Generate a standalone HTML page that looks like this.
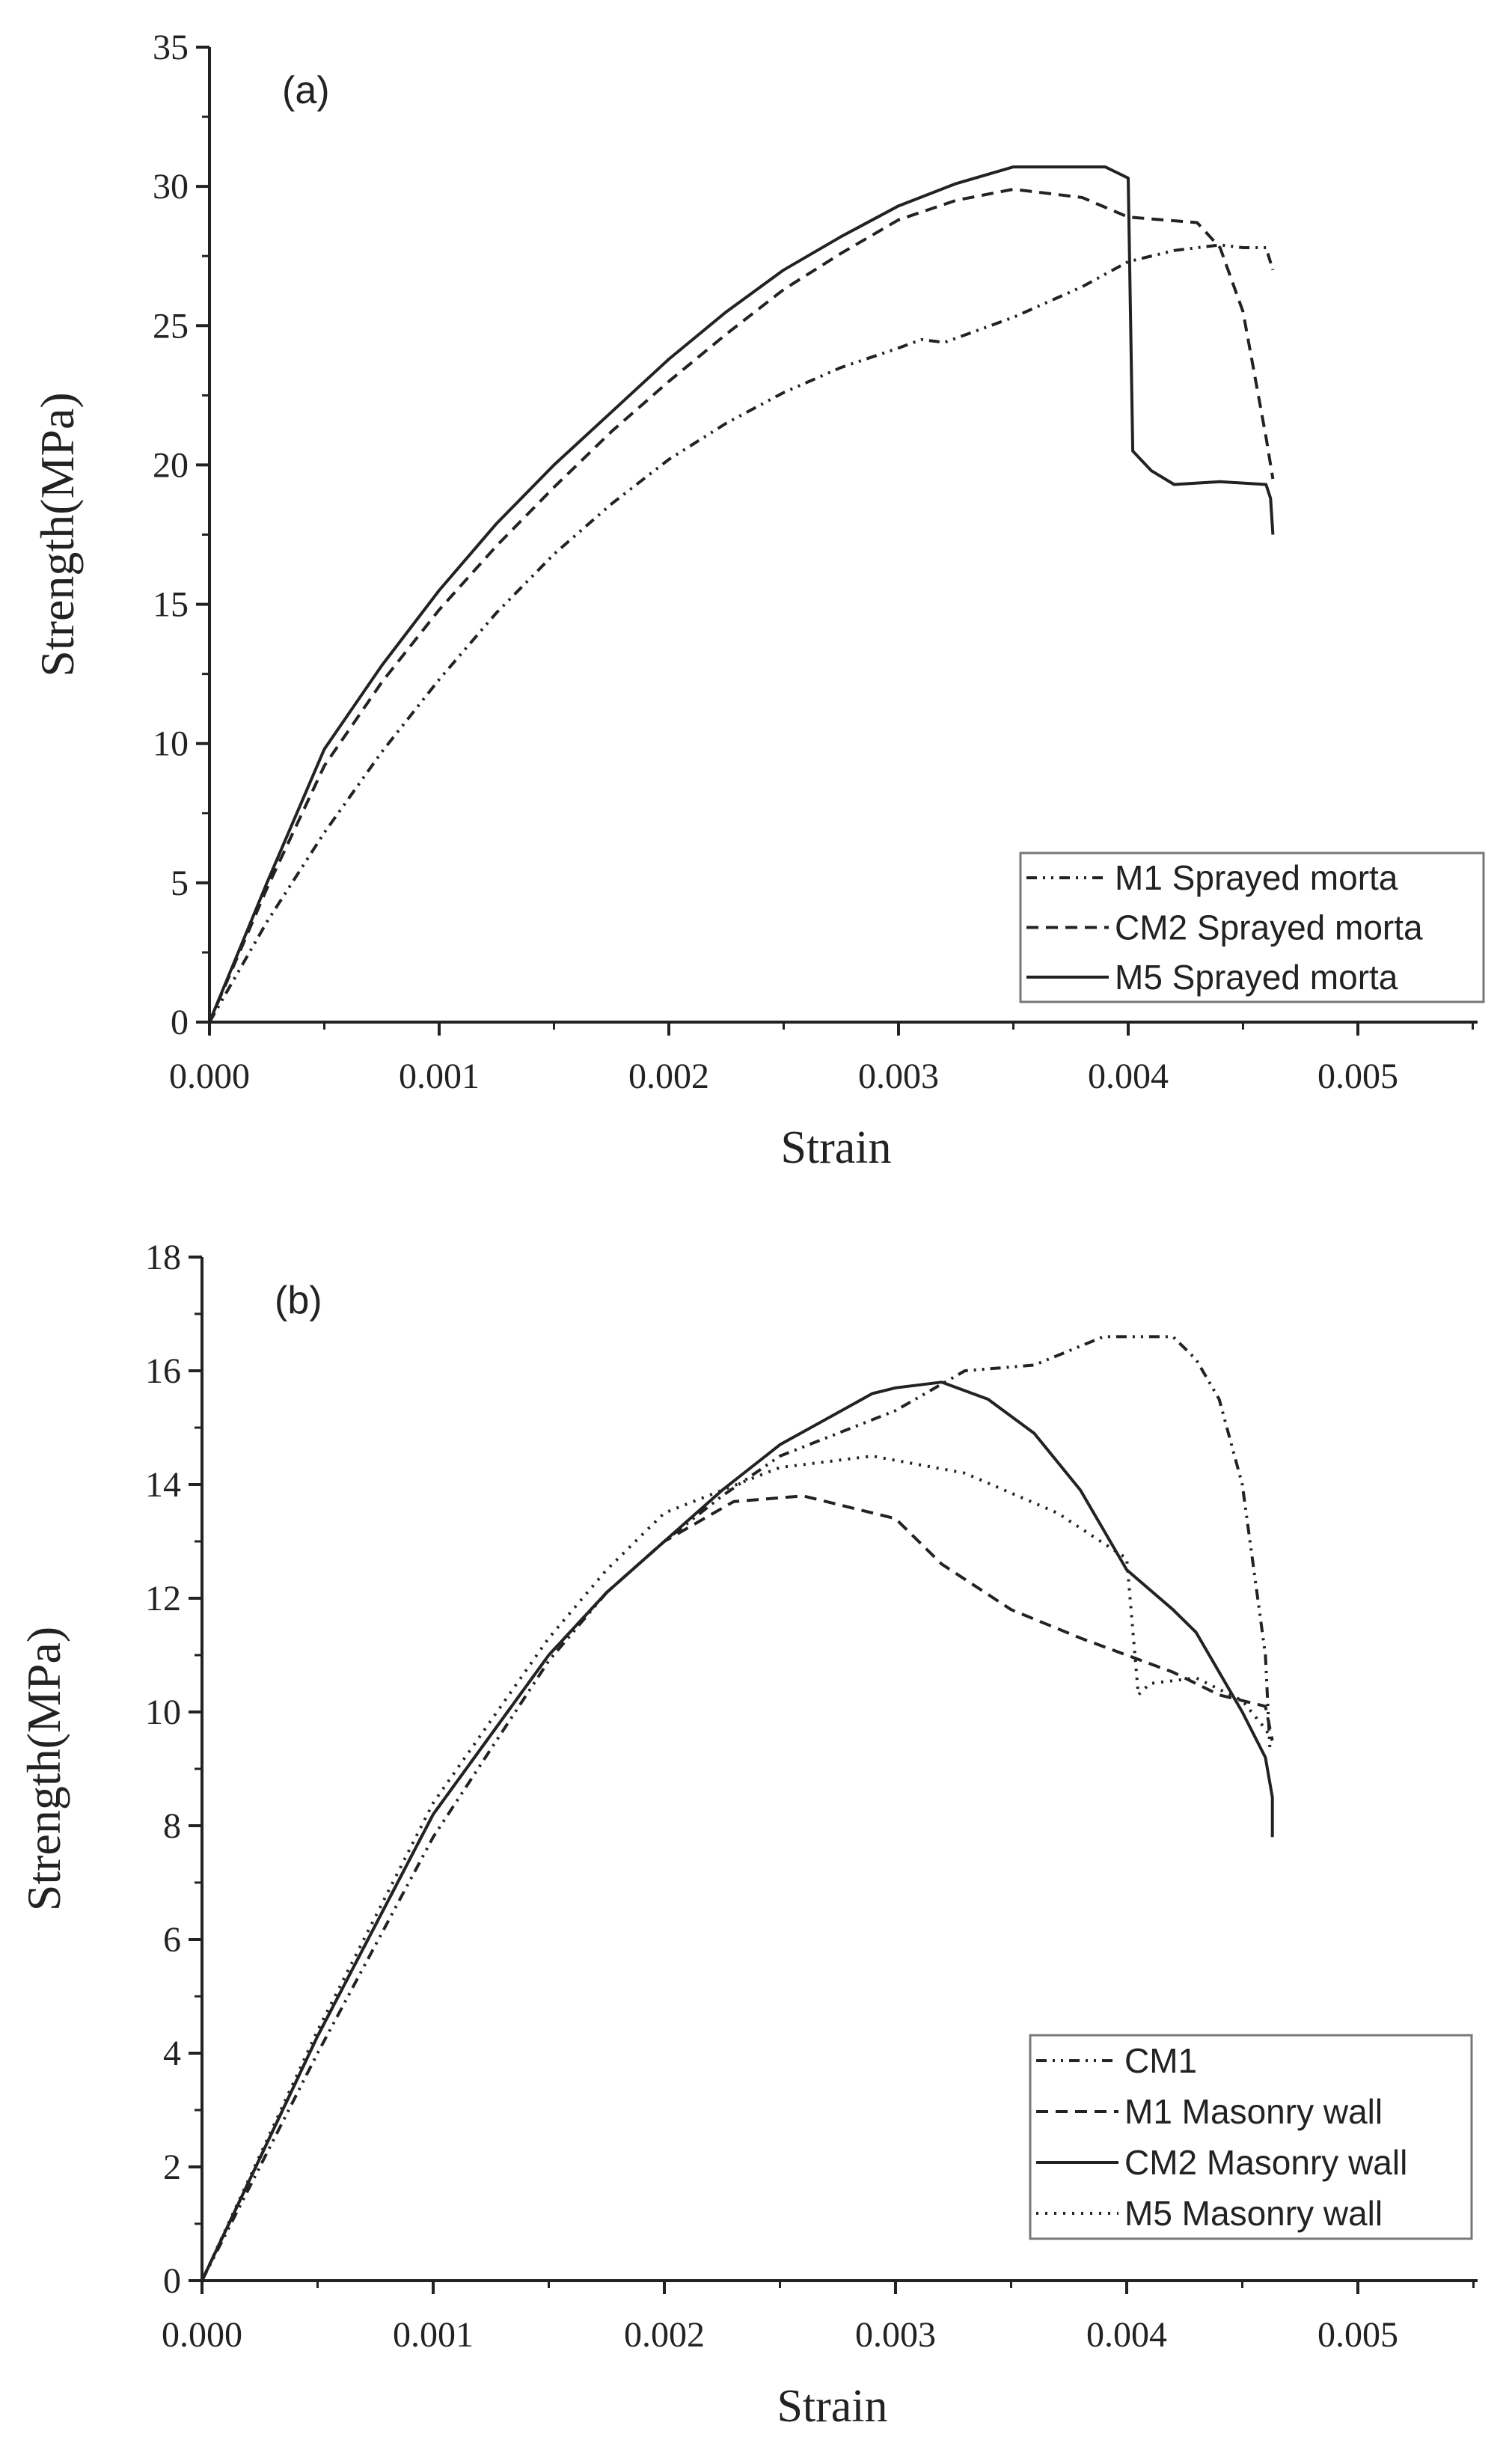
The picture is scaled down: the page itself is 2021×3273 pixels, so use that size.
<!DOCTYPE html>
<html><head><meta charset="utf-8"><style>
html,body{margin:0;padding:0;background:#fff;}
svg{display:block;}
</style></head><body>
<svg id="fig" width="2021" height="3273" viewBox="0 0 2021 3273" xmlns="http://www.w3.org/2000/svg"></svg>
<script>
// Panel (a) data
const aX_M1 = [0,0.00025,0.0005,0.00075,0.001,0.00125,0.0015,0.00175,0.002,0.00225,0.0025,0.00275,0.003,0.0031,0.0032,0.0035,0.0038,0.004,0.0042,0.0044,0.0045,0.0046,0.00463];
const aY_M1 = [0,3.6,6.8,9.7,12.3,14.7,16.8,18.6,20.2,21.5,22.6,23.5,24.2,24.5,24.4,25.3,26.4,27.3,27.7,27.9,27.8,27.8,27];
const aX_CM2 = [0,0.00025,0.0005,0.00075,0.001,0.00125,0.0015,0.00175,0.002,0.00225,0.0025,0.00275,0.003,0.00325,0.0035,0.0038,0.004,0.0043,0.0044,0.0045,0.0046,0.00463];
const aY_CM2 = [0,4.8,9.2,12.2,14.8,17.1,19.2,21.2,23,24.7,26.3,27.6,28.8,29.5,29.9,29.6,28.9,28.7,27.8,25.5,21,19.5];
const aX_M5 = [0,0.00025,0.0005,0.00075,0.001,0.00125,0.0015,0.00175,0.002,0.00225,0.0025,0.00275,0.003,0.00325,0.0035,0.0039,0.004,0.00402,0.0041,0.0042,0.0044,0.0046,0.00462,0.00463];
const aY_M5 = [0,5,9.8,12.8,15.5,17.9,20,21.9,23.8,25.5,27,28.2,29.3,30.1,30.7,30.7,30.3,20.5,19.8,19.3,19.4,19.3,18.8,17.5];
// Panel (b) data
const bX_CM1 = [0,0.0005,0.001,0.0015,0.00175,0.002,0.00225,0.0025,0.00275,0.003,0.0033,0.0036,0.0039,0.0042,0.0043,0.0044,0.0045,0.0046,0.00462];
const bY_CM1 = [0,4,7.8,10.9,12.1,13,13.8,14.5,14.9,15.3,16,16.1,16.6,16.6,16.2,15.5,14,11,9.3];
const bX_M1 = [0,0.0005,0.001,0.0015,0.00175,0.002,0.0023,0.0026,0.003,0.0032,0.0035,0.0038,0.004,0.0042,0.0044,0.0046,0.00463];
const bY_M1 = [0,4.3,8.2,11,12.1,13,13.7,13.8,13.4,12.6,11.8,11.3,11,10.7,10.3,10.1,9.5];
const bX_CM2 = [0,0.0005,0.001,0.0015,0.00175,0.002,0.00225,0.0025,0.0029,0.003,0.0032,0.0034,0.0036,0.0038,0.0039,0.004,0.0042,0.0043,0.0045,0.0046,0.00463,0.00463];
const bY_CM2 = [0,4.3,8.2,11,12.1,13,13.9,14.7,15.6,15.7,15.8,15.5,14.9,13.9,13.2,12.5,11.8,11.4,10,9.2,8.5,7.8];
const bX_M5 = [0,0.0005,0.001,0.0015,0.00175,0.002,0.0025,0.0029,0.0033,0.0037,0.004,0.00405,0.0041,0.0043,0.0045,0.0046,0.00463];
const bY_M5 = [0,4.4,8.4,11.3,12.5,13.5,14.3,14.5,14.2,13.5,12.7,10.3,10.5,10.6,10.2,9.7,9.5];
const xTicks = ["0.000","0.001","0.002","0.003","0.004","0.005"];
const aYTicks = ["0","5","10","15","20","25","30","35"];
const bYTicks = ["0","2","4","6","8","10","12","14","16","18"];

const NS="http://www.w3.org/2000/svg";
const svg=document.getElementById('fig');
function mk(tag,attrs,parent){const e=document.createElementNS(NS,tag);for(const k in attrs)e.setAttribute(k,attrs[k]);(parent||svg).appendChild(e);return e;}
const DASH={dashdot:"14,8,3,8,3,8",dash:"16,10",solid:"none",dot:"3,9"};

function panel(p){
  const g=mk('g',{});
  
  
  const sx=v=>p.x0+v/0.001*p.dx;
  const sy=v=>p.y0-(v/p.ymax)*(p.y0-p.ytop);
  const ax=mk('path',{d:`M${p.x0},${p.ytop} L${p.x0},${p.y0} L${p.xR},${p.y0}`,stroke:'#222','stroke-width':4,fill:'none'},g);
  
  
  const ystep=p.ymax/(p.yt.length-1);
  p.yt.forEach((t,i)=>{
    const y=sy(i*ystep);
    mk('line',{x1:p.x0-18,x2:p.x0,y1:y,y2:y,stroke:'#222','stroke-width':4},g);
    if(i<p.yt.length-1){const ym=sy((i+0.5)*ystep);mk('line',{x1:p.x0-10,x2:p.x0,y1:ym,y2:ym,stroke:'#222','stroke-width':3},g);}
    const tx=mk('text',{x:p.x0-28,y:y+16,'text-anchor':'end','font-family':'Liberation Serif, serif','font-size':48,fill:'#222'},g);
    tx.textContent=t;
    
    
  });
  xTicks.forEach((t,i)=>{
    const x=sx(i*0.001);
    mk('line',{x1:x,x2:x,y1:p.y0,y2:p.y0+18,stroke:'#222','stroke-width':4},g);
    const xm=sx((i+0.5)*0.001);
    if(xm<p.xR)mk('line',{x1:xm,x2:xm,y1:p.y0,y2:p.y0+10,stroke:'#222','stroke-width':3},g);
    const tx=mk('text',{x:x,y:p.y0+88,'text-anchor':'middle','font-family':'Liberation Serif, serif','font-size':48,fill:'#222'},g);
    tx.textContent=t;
    
    
  });
  const xt=mk('text',{x:(p.x0+p.xR)/2-10,y:p.y0+188,'text-anchor':'middle','font-family':'Liberation Serif, serif','font-size':62,fill:'#222'},g);
  xt.textContent='Strain';
  
  
  const ycy=(p.y0+p.ytop)/2;
  const yt=mk('text',{x:0,y:0,transform:`translate(${p.x0-p.ytOff},${ycy}) rotate(-90)`,'text-anchor':'middle','font-family':'Liberation Serif, serif','font-size':64,fill:'#222'},g);
  yt.textContent='Strength(MPa)';
  
  
  const lab=mk('text',{x:p.x0+97,y:p.ytop+75,'font-family':'Liberation Sans, sans-serif','font-size':52,fill:'#222'},g);
  lab.textContent=p.label;
  
  
  p.series.forEach(s=>{
    const d=s.x.map((v,i)=>(i?'L':'M')+sx(v).toFixed(1)+','+sy(s.y[i]).toFixed(1)).join(' ');
    const pa=mk('path',{d:d,fill:'none',stroke:'#222','stroke-width':4,'stroke-dasharray':DASH[s.style],'stroke-linejoin':'round'},g);
    
    
  });
  const L=p.legend;
  const lg=mk('g',{},g);
  
  
  mk('rect',{x:L.x,y:L.y,width:L.w,height:L.h,fill:'#fff',stroke:'#777','stroke-width':3},lg);
  const rh=L.h/p.series.length;
  p.series.forEach((s,i)=>{
    const cy=L.y+rh*(i+0.5);
    mk('line',{x1:L.x+8,x2:L.x+118,y1:cy,y2:cy,stroke:'#222','stroke-width':4,'stroke-dasharray':DASH[s.style]},lg);
    const t=mk('text',{x:L.x+126,y:cy+16,'font-family':'Liberation Sans, sans-serif','font-size':46,fill:'#222'},lg);
    t.textContent=s.label;
    
    
  });
}
panel({name:'panel-a',label:'(a)',x0:280,dx:307,xR:1975,y0:1366,ytop:63,ymax:35,yt:aYTicks,ytOff:182,
  legend:{x:1364,y:1140,w:619,h:199},
  series:[{id:'line-m1-sprayed',x:aX_M1,y:aY_M1,style:'dashdot',label:'M1 Sprayed morta'},
          {id:'line-cm2-sprayed',x:aX_CM2,y:aY_CM2,style:'dash',label:'CM2 Sprayed morta'},
          {id:'line-m5-sprayed',x:aX_M5,y:aY_M5,style:'solid',label:'M5 Sprayed morta'}]});
panel({name:'panel-b',label:'(b)',x0:270,dx:309,xR:1975,y0:3048,ytop:1680,ymax:18,yt:bYTicks,ytOff:190,
  legend:{x:1377,y:2720,w:590,h:272},
  series:[{id:'line-cm1',x:bX_CM1,y:bY_CM1,style:'dashdot',label:'CM1'},
          {id:'line-m1-masonry',x:bX_M1,y:bY_M1,style:'dash',label:'M1 Masonry wall'},
          {id:'line-cm2-masonry',x:bX_CM2,y:bY_CM2,style:'solid',label:'CM2 Masonry wall'},
          {id:'line-m5-masonry',x:bX_M5,y:bY_M5,style:'dot',label:'M5 Masonry wall'}]});
</script>
</body></html>
